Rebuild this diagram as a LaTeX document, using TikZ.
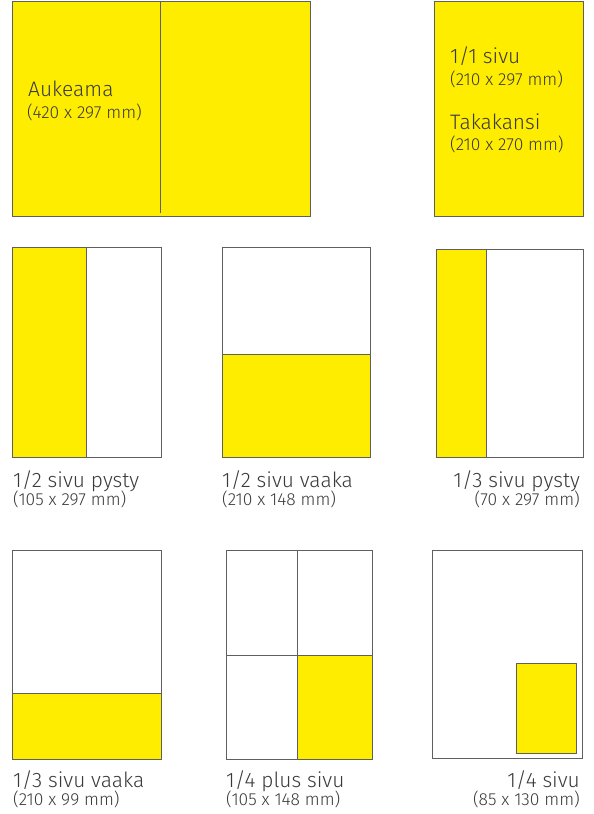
\documentclass[tikz,border=0pt]{standalone}
\usepackage{fontspec}
\setmainfont{Fira Sans Light}
\definecolor{adyellow}{HTML}{FFED00}
\definecolor{edgegray}{HTML}{5F5F5F}
\definecolor{textgray}{HTML}{3A3A3A}
\tikzset{
  sheet/.style={draw=edgegray,line width=1bp},
  ad/.style={fill=adyellow},
  label/.style={inner sep=0pt,text=textgray,font=\fontsize{21}{21}\selectfont},
  dims/.style={inner sep=0pt,text=textgray,font=\fontsize{17.5}{17.5}\selectfont},
}
\begin{document}
\begin{tikzpicture}[x=1bp,y=-1bp]
   \useasboundingbox (0,0) rectangle (594,814);
   %Aukeama
   \fill[ad] (12,2) rectangle (310,216);
   \draw[sheet] (12,2) rectangle (310,216);
   \draw[sheet] (160,2) -- (160,213);
   \node[label,anchor=base west] (spread) at (28,96) {Aukeama};
   \node[dims,anchor=base west] (spreaddim) at (27,118) {(420 x 297 mm)};
   %1/1 sivu
   \fill[ad] (434,2) rectangle (583,216);
   \draw[sheet] (434,2) rectangle (583,216);
   \node[label,anchor=base west] (full) at (450,64) {1/1 sivu};
   \node[dims,anchor=base west] (fulldim) at (450,85) {(210 x 297 mm)};
   \node[label,anchor=base west] (back) at (450,129) {Takakansi};
   \node[dims,anchor=base west] (backdim) at (450,150) {(210 x 270 mm)};
   %1/2 pysty
   \fill[ad] (12,247) rectangle (86,457);
   \draw[sheet] (12,247) rectangle (161,457);
   \draw[sheet] (86,247) -- (86,457);
   \node[label,anchor=base west] (halfv) at (13,487) {1/2 sivu pysty};
   \node[dims,anchor=base west] (halfvdim) at (13,505) {(105 x 297 mm)};
   %1/2 vaaka
   \fill[ad] (222,354) rectangle (370,457);
   \draw[sheet] (222,247) rectangle (370,457);
   \draw[sheet] (222,354) -- (370,354);
   \node[label,anchor=base west] (halfh) at (222,487) {1/2 sivu vaaka};
   \node[dims,anchor=base west] (halfhdim) at (222,505) {(210 x 148 mm)};
   %1/3 pysty
   \fill[ad] (436,249) rectangle (486,457);
   \draw[sheet] (436,249) rectangle (583,457);
   \draw[sheet] (486,249) -- (486,457);
   \node[label,anchor=base east] (thirdv) at (580,487) {1/3 sivu pysty};
   \node[dims,anchor=base east] (thirdvdim) at (580,505) {(70 x 297 mm)};
   %1/3 vaaka
   \fill[ad] (12,693) rectangle (161,759);
   \draw[sheet] (12,550) rectangle (161,759);
   \draw[sheet] (12,693) -- (161,693);
   \node[label,anchor=base west] (thirdh) at (13,787) {1/3 sivu vaaka};
   \node[dims,anchor=base west] (thirdhdim) at (13,805) {(210 x 99 mm)};
   %1/4 plus
   \fill[ad] (297,655) rectangle (372,759);
   \draw[sheet] (226,550) rectangle (372,759);
   \draw[sheet] (297,550) -- (297,759);
   \draw[sheet] (226,655) -- (372,655);
   \node[label,anchor=base west] (quarterp) at (226,787) {1/4 plus sivu};
   \node[dims,anchor=base west] (quarterpdim) at (226,805) {(105 x 148 mm)};
   %1/4 sivu
   \draw[sheet] (432,550) rectangle (582,758);
   \draw[sheet,ad] (516,663) rectangle (576,753);
   \node[label,anchor=base east] (quarter) at (580,787) {1/4 sivu};
   \node[dims,anchor=base east] (quarterdim) at (580,805) {(85 x 130 mm)};
\end{tikzpicture}
\end{document}
